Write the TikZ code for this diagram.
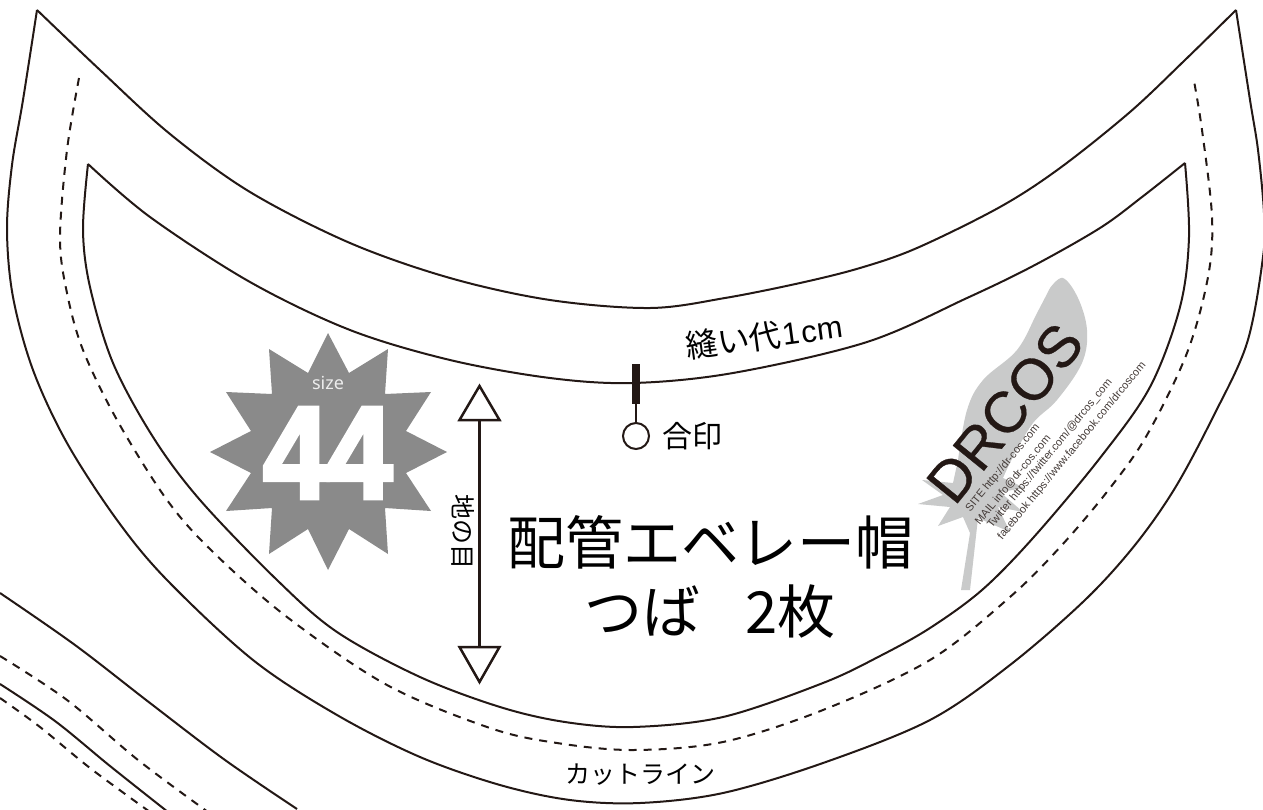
\documentclass[tikz,border=0pt]{standalone}
\usepackage{fontspec}
\setmainfont{Liberation Sans}
\newfontfamily\jp{Noto Sans CJK JP}
\newfontfamily\fatlat[FakeBold=3.5]{Liberation Sans Bold}
\newfontfamily\logofont[FakeBold=0.5]{Liberation Sans}
\newfontfamily\noto{Noto Sans}
\definecolor{ink}{HTML}{231815}
\definecolor{stargray}{HTML}{8A8A8A}
\definecolor{feathergray}{HTML}{C9CACA}
\tikzset{
  cut/.style={draw=ink,line width=2pt,line join=miter},
  sew/.style={draw=ink,line width=2pt,dash pattern=on 8pt off 7pt},
  jplabel/.style={inner sep=0pt,text=black,font=\jp},
  tinyurl/.style={inner sep=0pt,text=ink!85,font=\fontsize{11}{11}\selectfont,rotate=50.5},
}
\begin{document}
\begin{tikzpicture}[x=1pt,y=-1pt]
\useasboundingbox (0,0) rectangle (1263,809);
\clip (0,0) rectangle (1263,809);
% feather
\fill[feathergray] plot[smooth,tension=0.6] coordinates {(1050,288)(1063,278)(1078,298)(1087,330)(1082,363)(1057,400)(1033,423)(1013,457)(1003,478)}
 -- (1025,488) -- (1000,492) -- (1023,512) -- (998,507) -- (1010,532) -- (978,518) -- (970,590) -- (961,590) -- (970,533) -- (963,517) -- (938,526) -- (950,507) -- (918,504) -- (943,495) -- (922,480) -- (953,483) -- plot[smooth,tension=0.6] coordinates {(958,460)(967,410)(983,380)(1017,350)(1037,313)(1050,288)} -- cycle;
% brim outer
\draw[cut] plot[smooth,tension=0.55] coordinates {(37,10)(23,100)(12,165)(7,230)(13,297)(33,370)(67,443)(117,520)(167,580)(253,660)(337,715)(420,757)(500,785)(570,800)(640,803)(723,793)(823,763)(930,720)(1010,665)(1085,600)(1135,545)(1175,488)(1213,417)(1247,343)(1263,257)(1264,213)(1258,150)(1250,100)(1236,10)};
\draw[cut] plot[smooth,tension=0.55] coordinates {(37,10)(100,70)(170,134)(250,192)(350,243)(450,278)(550,300)(650,308)(725,298)(800,283)(860,268)(917,248)(1000,207)(1060,168)(1130,112)(1185,60)(1236,10)};
% brim inner
\draw[cut] plot[smooth,tension=0.55] coordinates {(88,164)(83,230)(90,287)(113,363)(153,437)(200,500)(277,580)(337,632)(420,677)(500,707)(565,722)(633,727)(723,717)(823,683)(880,656)(930,628)(982,590)(1033,538)(1100,458)(1150,387)(1180,307)(1189,237)(1185,163)};
\draw[cut] plot[smooth,tension=0.55] coordinates {(88,164)(150,217)(250,282)(350,330)(450,360)(550,378)(633,383)(733,373)(867,342)(967,298)(1033,266)(1100,228)(1142,197)(1185,163)};
% seam
\draw[sew] plot[smooth,tension=0.55] coordinates {(79,78)(67,150)(60,238)(67,293)(83,350)(117,420)(167,500)(213,552)(287,617)(387,685)(490,728)(557,743)(633,750)(723,742)(823,710)(930,660)(1010,597)(1062,545)(1110,488)(1147,435)(1187,353)(1208,277)(1212,217)(1202,130)(1194,81)};
% neighbouring piece
\draw[cut] plot[smooth,tension=0.55] coordinates {(0,593)(75,645)(150,703)(225,760)(297,809)};
\draw[sew] plot[smooth,tension=0.55] coordinates {(0,656)(67,700)(138,760)(208,812)};
\draw[cut] plot[smooth,tension=0.55] coordinates {(0,684)(55,721)(110,766)(168,812)};
\draw[sew] plot[smooth,tension=0.55] coordinates {(0,698)(40,727)(90,768)(150,812)};
% star
\fill[stargray] (328,333)--(349,373)--(388,349)--(385,394)--(431,392)--(406,431)--(447,452)--(406,473)--(431,511)--(385,508)--(388,554)--(349,529)--(328,570)--(308,529)--(269,554)--(272,508)--(226,511)--(251,473)--(210,452)--(251,431)--(226,392)--(272,394)--(269,349)--(308,373)--cycle;
\node[inner sep=0pt,text=black!7,font=\noto\fontsize{18}{18}\selectfont] (sz) at (328,383) {size};
\node[inner sep=0pt,text=white,font=\fatlat\fontsize{131}{131}\selectfont,xscale=0.9] (fourA) at (296,453) {4};
\node[inner sep=0pt,text=white,font=\fatlat\fontsize{131}{131}\selectfont,xscale=0.9] (fourB) at (359.5,453) {4};
% grain arrow
\coordinate (gtop) at (479.5,420);
\coordinate (gbot) at (479.5,647);
\draw[draw=ink,line width=2.4pt] (gtop) -- (gbot);
\draw[draw=ink,line width=2.5pt,line join=miter] (479.5,386) -- (499.5,420) -- (459.5,420) -- cycle;
\draw[draw=ink,line width=2.5pt,line join=miter] (479.5,682) -- (499.5,647) -- (459.5,647) -- cycle;
\node[jplabel,font=\jp\fontsize{25}{25}\selectfont,rotate=-90] (grain) at (463,532) {地の目};
% notch
\coordinate (ntop) at (636,364);
\coordinate (nbot) at (636,404);
\node[circle,draw=ink,line width=2pt,minimum size=26pt,inner sep=0pt] (mark) at (636,436) {};
\draw[draw=ink,line width=8pt] (ntop) -- (nbot);
\draw[draw=ink,line width=2pt] (nbot) -- (mark);
\node[jplabel,font=\jp\fontsize{30}{30}\selectfont] (marklabel) at (692,436) {合印};
\node[jplabel,font=\jp\fontsize{32}{32}\selectfont,rotate=7.7] (seamlabel) at (764,336) {縫い代\hspace{1pt}{\rmfamily\fontsize{31}{31}\selectfont 1\hspace{2pt}cm}};
\node[jplabel,font=\jp\fontsize{25}{25}\selectfont] (cutlabel) at (640,775) {カットライン};
\node[jplabel,font=\jp\fontsize{58}{58}\selectfont] (title) at (710,542) {配管エベレー帽};
\node[jplabel,font=\jp\fontsize{58}{58}\selectfont] (sub) at (710,612) {つば\hspace{45pt}2枚};
% logo
\node[inner sep=0pt,text=ink,font=\logofont\fontsize{58}{58}\selectfont,rotate=51] (logo) at (1005,413) {DRCOS};
\node[tinyurl] (u1) at (1003,468) {SITE http://dr-cos.com};
\node[tinyurl] (u2) at (1013,480) {MAIL info@dr-cos.com};
\node[tinyurl] (u3) at (1050,454) {Twitter https://twitter.com/@drcos\_com};
\node[tinyurl] (u4) at (1072,451) {facebook https://www.facebook.com/drcoscom};
\end{tikzpicture}
\end{document}
